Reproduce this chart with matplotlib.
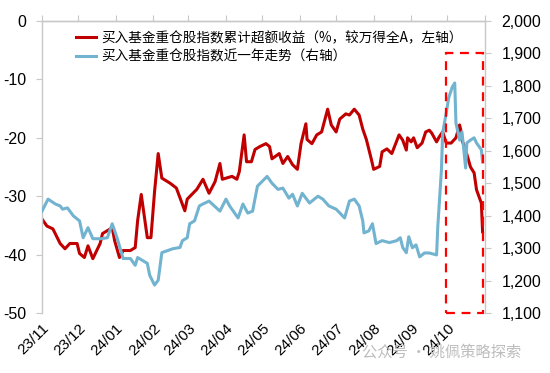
import numpy as np
import matplotlib
matplotlib.use("Agg")
import matplotlib.pyplot as plt
import matplotlib.dates as mdates
from matplotlib.patches import Rectangle
from matplotlib.ticker import FuncFormatter

plt.rcParams["font.family"] = ["Liberation Sans", "Noto Sans CJK SC", "DejaVu Sans"]
plt.rcParams["axes.unicode_minus"] = False

# ── data (days since 2023-11-01) ──────────────────────────────────────────────
base_date = np.datetime64("2023-11-01")

red_days = [0, 4, 9, 15, 19, 23, 29, 31, 35, 38, 42, 48, 50, 54, 58, 60, 64, 67, 73, 77,
            79, 82, 87, 90, 93, 96, 99, 106, 111, 118, 120, 128, 133, 138, 143, 147, 149, 157, 161, 163,
            167, 169, 173, 176, 180, 185, 188, 190, 196, 199, 203, 207, 211, 214, 218, 219, 223, 227, 231, 236,
            239, 243, 246, 251, 254, 258, 262, 265, 268, 272, 274, 279, 281, 285, 289, 295, 298, 301, 302, 305,
            307, 310, 314, 317, 320, 322, 326, 328, 331, 334, 338, 342, 345, 346, 347, 350, 354, 357, 359, 363,
            364]
red_excess = [-33.9, -35.1, -35.6, -38.1, -39.0, -38.1, -38.1, -39.8, -40.5, -38.5,
              -40.7, -38.1, -36.4, -35.9, -35.4, -37.6, -40.5, -39.3, -39.3, -38.8,
              -34.2, -29.7, -37.1, -37.1, -29.2, -22.7, -26.9, -27.8, -28.6, -32.5,
              -30.5, -28.8, -27.1, -29.5, -27.5, -24.4, -27.1, -26.6, -27.1, -25.8,
              -19.5, -24.1, -24.1, -22.0, -21.5, -21.0, -21.5, -23.6, -22.7, -24.4,
              -23.2, -24.6, -25.4, -21.0, -17.6, -20.3, -21.0, -19.5, -19.0, -15.1,
              -17.8, -19.0, -16.8, -15.9, -16.1, -15.1, -16.1, -18.5, -20.3, -23.6,
              -25.4, -24.9, -22.4, -21.9, -22.7, -19.5, -20.4, -22.1, -20.0, -20.7,
              -20.0, -21.7, -20.9, -19.0, -18.7, -19.2, -20.7, -19.9, -19.0, -20.9,
              -20.9, -20.0, -17.8, -18.7, -20.4, -22.1, -25.0, -26.0, -28.9, -31.2,
              -36.1]

blue_days = [0, 5, 11, 15, 17, 21, 26, 31, 34, 38, 42, 49, 54, 58, 62, 67, 73, 77, 79, 87,
             89, 93, 96, 99, 108, 114, 116, 120, 122, 126, 130, 133, 138, 147, 152, 155, 162, 166, 170, 174,
             178, 182, 186, 190, 195, 199, 204, 207, 211, 215, 221, 228, 232, 237, 243, 250, 254, 258, 262, 265,
             266, 270, 273, 276, 281, 287, 293, 296, 298, 301, 303, 306, 309, 312, 316, 320, 326, 327, 330, 331,
             334, 336, 339, 341, 342, 345, 347, 350, 351, 354, 357, 359, 363, 364]
blue_index = [1414, 1451, 1436, 1430, 1420, 1424, 1399, 1384, 1332, 1363,
              1329, 1329, 1332, 1375, 1332, 1268, 1268, 1247, 1271, 1253,
              1216, 1186, 1201, 1286, 1298, 1302, 1323, 1332, 1375, 1384,
              1430, 1436, 1445, 1414, 1451, 1430, 1393, 1436, 1408, 1414,
              1491, 1506, 1521, 1500, 1481, 1485, 1454, 1466, 1430, 1469,
              1439, 1460, 1451, 1430, 1420, 1393, 1445, 1451, 1430, 1384,
              1347, 1353, 1375, 1314, 1323, 1317, 1323, 1332, 1302, 1286,
              1335, 1301, 1310, 1273, 1285, 1285, 1279, 1366, 1541, 1655,
              1717, 1763, 1797, 1809, 1686, 1633, 1658, 1547, 1624, 1633,
              1640, 1624, 1603, 1566]

red_label = "买入基金重仓股指数累计超额收益（%，较万得全A，左轴）"
blue_label = "买入基金重仓股指数近一年走势（右轴）"
watermark = "公众号 · 姚佩策略探索"

highlight_start = np.datetime64("2024-09-30")
highlight_end = np.datetime64("2024-10-30")

red_dates = base_date + np.array(red_days).astype("timedelta64[D]")
blue_dates = base_date + np.array(blue_days).astype("timedelta64[D]")

RED = "#C00000"
BLUE = "#72B3D0"
AXIS_GRAY = "#C8C8C8"

# ── figure ────────────────────────────────────────────────────────────────────
fig = plt.figure(figsize=(5.5, 3.73), dpi=100)
ax = fig.add_axes([42 / 550, 1 - 313 / 373, 443 / 550, 292 / 373])
ax2 = ax.twinx()

l1, = ax.plot(red_dates, red_excess, color=RED, lw=2.2, solid_joinstyle="round")
l2, = ax2.plot(blue_dates, blue_index, color=BLUE, lw=2.2, solid_joinstyle="round")

ax.set_ylim(-50, 0)
ax.set_yticks(np.arange(-50, 1, 10))
ax2.set_ylim(1100, 2000)
ax2.set_yticks(np.arange(1100, 2001, 100))
ax2.yaxis.set_major_formatter(FuncFormatter(lambda v, p: f"{int(v):,}"))

ax.set_xlim(np.datetime64("2023-11-01"), np.datetime64("2024-11-01"))
ax.xaxis.set_major_locator(mdates.MonthLocator())
ax.xaxis.set_major_formatter(
    FuncFormatter(lambda v, p: "" if mdates.num2date(v).strftime("%y/%m") == "24/11"
                  else mdates.num2date(v).strftime("%y/%m")))

# spines / ticks in an Excel-like style
for a in (ax, ax2):
    a.spines["bottom"].set_visible(False)
    for s in ("left", "right", "top"):
        a.spines[s].set_color(AXIS_GRAY)
        a.spines[s].set_linewidth(1.0)
ax.spines["right"].set_visible(False)
ax2.spines["left"].set_visible(False)

ax.tick_params(axis="x", which="both", bottom=False, top=True, labelbottom=True,
               labeltop=False, direction="out", length=4, color=AXIS_GRAY,
               labelsize=11, pad=2)
ax.tick_params(axis="y", direction="out", length=4, color=AXIS_GRAY, labelsize=11.5, pad=7)
ax2.tick_params(axis="y", direction="out", length=4, color=AXIS_GRAY, labelsize=11.5, pad=8)

for lab in ax.get_xticklabels():
    lab.set_rotation(45)
    lab.set_ha("right")
    lab.set_va("top")
    lab.set_rotation_mode("anchor")

# highlight box
ax2.add_patch(Rectangle((mdates.date2num(highlight_start), 1100),
                        mdates.date2num(highlight_end) - mdates.date2num(highlight_start), 800,
                        fill=False, edgecolor="#FF0000", lw=1.6, ls=(0, (4, 3)),
                        clip_on=False, zorder=5))

leg = ax2.legend([l1, l2], [red_label, blue_label], loc="upper left",
                 bbox_to_anchor=(76 / 550, 1 - 31 / 373), bbox_transform=fig.transFigure,
                 frameon=False, borderpad=0, borderaxespad=0, handlelength=1.5,
                 handletextpad=0.35, labelspacing=0.35,
                 prop={"family": ["Noto Sans CJK SC", "DejaVu Sans"], "size": 9.8})

fig.text(362 / 550, 1 - 352 / 373, watermark, color="#BDBDBD", fontsize=11,
         family=["Noto Sans CJK SC", "DejaVu Sans"], ha="left", va="center", zorder=0)

fig.savefig("out.png", dpi=100)
plt.close(fig)
